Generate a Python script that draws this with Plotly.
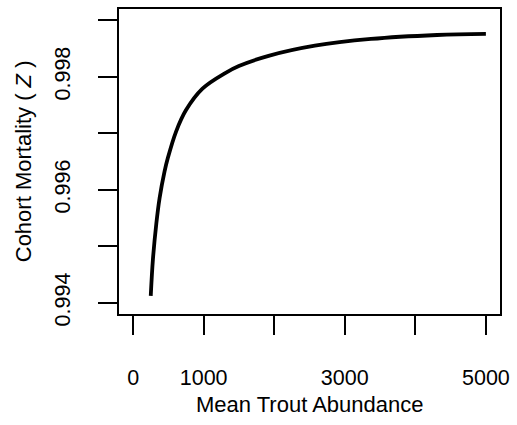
import plotly.graph_objects as go

# values
abundance = [250, 281, 329, 375, 445, 492, 609, 750, 983, 1312, 1499, 1920, 2576, 3371, 4308, 5000]
mortality = [0.99412, 0.99477, 0.99540, 0.99585, 0.99632, 0.99656, 0.99703, 0.99741,
             0.99779, 0.99807, 0.99819, 0.99837, 0.99855, 0.99867, 0.99874, 0.99876]

x_ticks = [0, 1000, 2000, 3000, 4000, 5000]
x_labels = ["0", "1000", "", "3000", "", "5000"]
y_ticks = [0.994, 0.995, 0.996, 0.997, 0.998, 0.999]
y_labels = ["0.994", "", "0.996", "", "0.998", ""]

FONT = "Liberation Sans, Arial, Helvetica, sans-serif"

fig = go.Figure()
fig.add_trace(go.Scatter(x=abundance, y=mortality, mode="lines",
                         line=dict(color="black", width=3.8, shape="spline", smoothing=1.0),
                         showlegend=False))

axis_common = dict(showline=True, linecolor="black", linewidth=1.5, mirror=True,
                   ticks="outside", ticklen=19, tickwidth=1.5, tickcolor="black",
                   showgrid=False, zeroline=False,
                   tickfont=dict(family=FONT, size=21.5, color="black"))

fig.update_xaxes(range=[-200, 5200], tickvals=x_ticks, ticktext=x_labels,
                 ticklabelstandoff=24, **axis_common)
fig.update_yaxes(range=[0.9938, 0.9992], tickvals=y_ticks, ticktext=y_labels,
                 tickangle=-90, ticklabelstandoff=20, **axis_common)

fig.add_annotation(text="Mean Trout Abundance", xref="paper", yref="paper",
                   x=0.5, y=-0.297, xanchor="center", yanchor="middle", showarrow=False,
                   font=dict(family=FONT, size=22, color="black"))
fig.add_annotation(text="Cohort Mortality ( <i>Z</i> )", xref="paper", yref="paper",
                   x=-0.25, y=0.5, xanchor="center", yanchor="middle", showarrow=False,
                   textangle=-90, font=dict(family=FONT, size=22, color="black"))

fig.update_layout(width=517, height=425, plot_bgcolor="white", paper_bgcolor="white",
                  margin=dict(l=119, r=14, t=7, b=111), autosize=False)

fig.write_html("out.html", config={"displayModeBar": False},
               post_script="document.body.style.margin='0';")
